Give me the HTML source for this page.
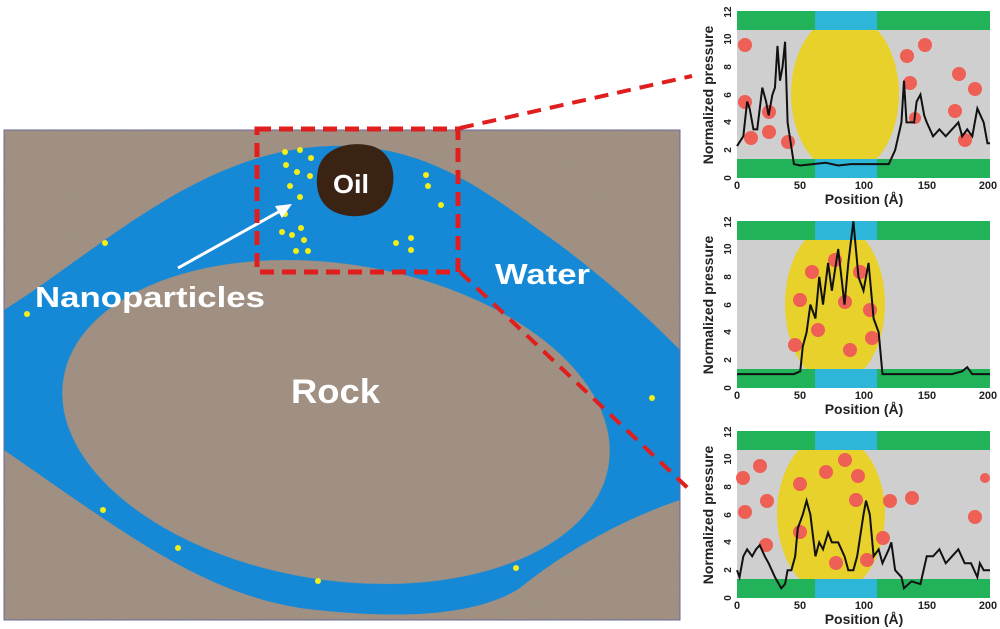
<!DOCTYPE html>
<html><head><meta charset="utf-8"><style>
html,body{margin:0;padding:0;background:#fff;}
svg{display:block;font-family:"Liberation Sans",sans-serif;}
</style></head><body>
<svg width="1000" height="629" viewBox="0 0 1000 629" xmlns="http://www.w3.org/2000/svg">
<defs>
<filter id="grain" x="0" y="0" width="100%" height="100%">
<feTurbulence type="fractalNoise" baseFrequency="0.9" numOctaves="1" seed="3" result="n"/>
<feColorMatrix in="n" type="matrix" values="0 0 0 0 0.35  0 0 0 0 0.3  0 0 0 0 0.26  0 0 0 -1.6 1.1" result="d"/>
<feComposite in="d" in2="SourceGraphic" operator="in" result="dd"/>
<feMerge><feMergeNode in="SourceGraphic"/><feMergeNode in="dd"/></feMerge>
</filter>
<clipPath id="lp"><rect x="4" y="130" width="676" height="490"/></clipPath>
</defs>

<g clip-path="url(#lp)">
<rect x="4" y="130" width="676" height="490" fill="#a08e7f" filter="url(#grain)"/>
<path d="M4,310 C100,250 200,150 330,146 C430,143 490,195 560,245 C620,290 660,330 680,350 L680,500 C620,520 560,555 520,588 C470,620 380,618 300,608 C200,592 120,530 4,450 Z" fill="#1589d6"/>
<ellipse cx="336" cy="422" rx="276" ry="158" transform="rotate(9 336 422)" fill="#a08e7f" filter="url(#grain)"/>
</g>
<rect x="4" y="130" width="676" height="490" fill="none" stroke="#6a6a9a" stroke-width="1"/>

<path d="M318,170 C322,148 350,140 372,146 C392,152 398,175 390,196 C382,214 360,220 340,214 C320,208 314,190 318,170 Z" fill="#3b2314"/>
<text x="333" y="193" font-size="26" font-weight="bold" fill="#fff" textLength="36" lengthAdjust="spacingAndGlyphs">Oil</text>

<g fill="#f2ee1a">
<circle cx="285" cy="152" r="3"/><circle cx="300" cy="150" r="3"/><circle cx="311" cy="158" r="3"/>
<circle cx="286" cy="165" r="3"/><circle cx="297" cy="172" r="3"/><circle cx="310" cy="176" r="3"/>
<circle cx="290" cy="186" r="3"/><circle cx="300" cy="197" r="3"/><circle cx="285" cy="214" r="3"/>
<circle cx="282" cy="232" r="3"/><circle cx="292" cy="235" r="3"/><circle cx="301" cy="228" r="3"/>
<circle cx="304" cy="240" r="3"/><circle cx="296" cy="251" r="3"/><circle cx="308" cy="251" r="3"/>
<circle cx="426" cy="175" r="3"/><circle cx="428" cy="186" r="3"/><circle cx="441" cy="205" r="3"/>
<circle cx="411" cy="238" r="3"/><circle cx="396" cy="243" r="3"/><circle cx="411" cy="250" r="3"/>
<circle cx="105" cy="243" r="3"/><circle cx="27" cy="314" r="3"/><circle cx="652" cy="398" r="3"/>
<circle cx="103" cy="510" r="3"/><circle cx="178" cy="548" r="3"/><circle cx="318" cy="581" r="3"/>
<circle cx="516" cy="568" r="3"/>
</g>

<line x1="178" y1="268" x2="282" y2="210" stroke="#fff" stroke-width="3"/>
<polygon points="292,204 275,206 282,218" fill="#fff"/>
<text x="35" y="307" font-size="29" font-weight="bold" fill="#fff" textLength="230" lengthAdjust="spacingAndGlyphs">Nanoparticles</text>
<text x="495" y="284" font-size="29" font-weight="bold" fill="#fff" textLength="95" lengthAdjust="spacingAndGlyphs">Water</text>
<text x="291" y="403" font-size="34" font-weight="bold" fill="#fff" textLength="89" lengthAdjust="spacingAndGlyphs">Rock</text>

<rect x="257" y="129" width="201" height="143" fill="none" stroke="#e01e1e" stroke-width="5" stroke-dasharray="14,8"/>
<line x1="460" y1="128" x2="692" y2="76" stroke="#e01e1e" stroke-width="4" stroke-dasharray="14,9"/>
<line x1="460" y1="272" x2="692" y2="492" stroke="#e01e1e" stroke-width="4" stroke-dasharray="14,9"/>

<g>
<g>
<rect x="737" y="11" width="253" height="167" fill="#cfcfcf"/>
<ellipse cx="845" cy="94" rx="54" ry="80" fill="#e8d12a"/>
<rect x="737" y="11" width="253" height="19" fill="#22b35a"/><rect x="737" y="159" width="253" height="19" fill="#22b35a"/>
<rect x="815" y="11" width="62" height="19" fill="#2db6d8"/><rect x="815" y="159" width="62" height="19" fill="#2db6d8"/>
<g fill="#ee5f55"><circle cx="745" cy="45" r="7"/><circle cx="745" cy="102" r="7"/><circle cx="769" cy="112" r="7"/><circle cx="769" cy="132" r="7"/><circle cx="788" cy="142" r="7"/><circle cx="751" cy="138" r="7"/><circle cx="925" cy="45" r="7"/><circle cx="907" cy="56" r="7"/><circle cx="910" cy="83" r="7"/><circle cx="959" cy="74" r="7"/><circle cx="975" cy="89" r="7"/><circle cx="955" cy="111" r="7"/><circle cx="965" cy="140" r="7"/><circle cx="915" cy="118" r="6"/></g>
<polyline transform="translate(737,178) scale(1.265,-13.9)" vector-effect="non-scaling-stroke" fill="none" stroke="#111" stroke-width="2" points="0,2.3 5,3 8,5.5 10,5 13,3.5 16,3.5 20,6.5 23,5.5 25,4.5 28,6 30,6.5 32,9.5 34,7 36,8 38,9.8 40,4 45,1 50,0.9 60,1 70,1.1 80,0.9 90,1 100,1 110,1 120,1 125,2 130,4 132,7 134,4 140,4 142,5.5 145,6 148,4.5 150,4 155,3 160,3.5 165,3 170,3.5 175,4 178,3 182,3.5 186,3 190,5 195,4 198,2.5 200,2.5"/>
</g>
<g transform="translate(0,210)">
<rect x="737" y="11" width="253" height="167" fill="#cfcfcf"/>
<ellipse cx="835" cy="94" rx="50" ry="80" fill="#e8d12a"/>
<rect x="737" y="11" width="253" height="19" fill="#22b35a"/><rect x="737" y="159" width="253" height="19" fill="#22b35a"/>
<rect x="815" y="11" width="62" height="19" fill="#2db6d8"/><rect x="815" y="159" width="62" height="19" fill="#2db6d8"/>
<g fill="#ee5f55"><circle cx="812" cy="62" r="7"/><circle cx="835" cy="50" r="7"/><circle cx="860" cy="62" r="7"/><circle cx="800" cy="90" r="7"/><circle cx="845" cy="92" r="7"/><circle cx="870" cy="100" r="7"/><circle cx="818" cy="120" r="7"/><circle cx="795" cy="135" r="7"/><circle cx="850" cy="140" r="7"/><circle cx="872" cy="128" r="7"/></g>
<polyline transform="translate(737,178) scale(1.265,-13.9)" vector-effect="non-scaling-stroke" fill="none" stroke="#111" stroke-width="2" points="0,1 20,1 40,1 45,1 50,1.2 52,3 55,4 58,6 62,5 65,8 68,6 72,9 75,7 80,10 85,6 88,9 92,12 96,8 100,7 104,9 108,5 112,4 115,1 130,1 150,1 170,1 178,1.2 182,1.5 186,1 200,1"/>
</g>
<g transform="translate(0,420)">
<rect x="737" y="11" width="253" height="167" fill="#cfcfcf"/>
<ellipse cx="831" cy="94" rx="54" ry="80" fill="#e8d12a"/>
<rect x="737" y="11" width="253" height="19" fill="#22b35a"/><rect x="737" y="159" width="253" height="19" fill="#22b35a"/>
<rect x="815" y="11" width="62" height="19" fill="#2db6d8"/><rect x="815" y="159" width="62" height="19" fill="#2db6d8"/>
<g fill="#ee5f55"><circle cx="743" cy="58" r="7"/><circle cx="760" cy="46" r="7"/><circle cx="767" cy="81" r="7"/><circle cx="745" cy="92" r="7"/><circle cx="766" cy="125" r="7"/><circle cx="800" cy="64" r="7"/><circle cx="826" cy="52" r="7"/><circle cx="845" cy="40" r="7"/><circle cx="858" cy="56" r="7"/><circle cx="856" cy="80" r="7"/><circle cx="890" cy="81" r="7"/><circle cx="912" cy="78" r="7"/><circle cx="883" cy="118" r="7"/><circle cx="800" cy="112" r="7"/><circle cx="836" cy="143" r="7"/><circle cx="867" cy="140" r="7"/><circle cx="975" cy="97" r="7"/><circle cx="985" cy="58" r="5"/></g>
<polyline transform="translate(737,178) scale(1.265,-13.9)" vector-effect="non-scaling-stroke" fill="none" stroke="#111" stroke-width="2" points="0,2 2,1.5 5,3 8,3.5 12,3 15,3.5 18,3.8 22,3 25,2.5 30,1.5 35,0.7 38,1 40,2 43,2 46,3 48,5 52,6 55,7 58,6 62,3 65,4 68,3.5 72,4.7 75,4 80,4 85,3 88,2 92,2 95,3 100,6 102,7 105,6 108,3 112,3.5 115,2.5 120,3.5 122,4 125,2 130,1.5 132,0.7 138,1.2 145,1 150,3 155,3 160,3.5 165,2.5 170,3 175,3.5 180,2.5 185,2.5 190,1.5 192,2.5 195,2 200,2"/>
</g>
</g>

<g font-size="11" fill="#222" font-weight="bold" text-anchor="middle">
<text x="737" y="189">0</text><text x="800" y="189">50</text><text x="864" y="189">100</text><text x="927" y="189">150</text><text x="988" y="189">200</text>
<text x="737" y="399">0</text><text x="800" y="399">50</text><text x="864" y="399">100</text><text x="927" y="399">150</text><text x="988" y="399">200</text>
<text x="737" y="609">0</text><text x="800" y="609">50</text><text x="864" y="609">100</text><text x="927" y="609">150</text><text x="988" y="609">200</text>
</g>
<g font-size="14" font-weight="bold" fill="#222" text-anchor="middle">
<text x="864" y="204">Position (Å)</text>
<text x="864" y="414">Position (Å)</text>
<text x="864" y="624">Position (Å)</text>
<text transform="translate(713,95) rotate(-90)">Normalized pressure</text>
<text transform="translate(713,305) rotate(-90)">Normalized pressure</text>
<text transform="translate(713,515) rotate(-90)">Normalized pressure</text>
</g>
<g font-size="10" font-weight="bold" fill="#222" text-anchor="middle">
<text transform="translate(731,178) rotate(-90)">0</text><text transform="translate(731,150) rotate(-90)">2</text><text transform="translate(731,122) rotate(-90)">4</text><text transform="translate(731,95) rotate(-90)">6</text><text transform="translate(731,67) rotate(-90)">8</text><text transform="translate(731,39) rotate(-90)">10</text><text transform="translate(731,12) rotate(-90)">12</text>
<text transform="translate(731,388) rotate(-90)">0</text><text transform="translate(731,360) rotate(-90)">2</text><text transform="translate(731,332) rotate(-90)">4</text><text transform="translate(731,305) rotate(-90)">6</text><text transform="translate(731,277) rotate(-90)">8</text><text transform="translate(731,249) rotate(-90)">10</text><text transform="translate(731,222) rotate(-90)">12</text>
<text transform="translate(731,598) rotate(-90)">0</text><text transform="translate(731,570) rotate(-90)">2</text><text transform="translate(731,542) rotate(-90)">4</text><text transform="translate(731,515) rotate(-90)">6</text><text transform="translate(731,487) rotate(-90)">8</text><text transform="translate(731,459) rotate(-90)">10</text><text transform="translate(731,432) rotate(-90)">12</text>
</g>
</svg>
</body></html>
